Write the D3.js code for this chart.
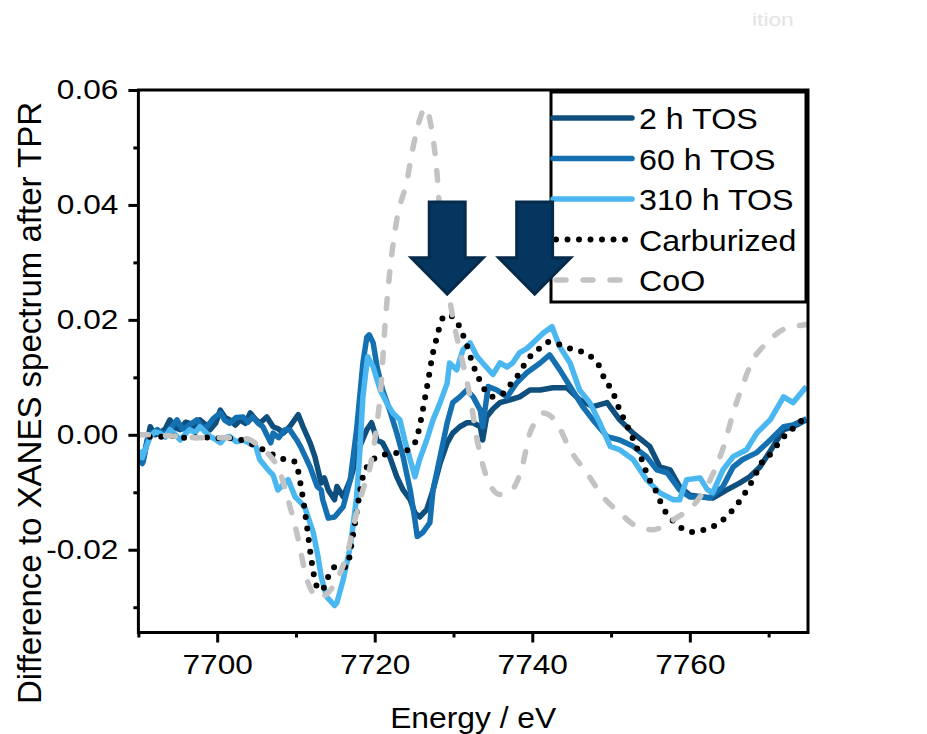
<!DOCTYPE html>
<html>
<head>
<meta charset="utf-8">
<script src="https://cdn.jsdelivr.net/npm/d3@7"></script>
<style>
body { margin: 0; background: #fff; }
svg text { font-family: "Liberation Sans", Arial, sans-serif; fill: #000; }
</style>
</head>
<body>
<svg id="chart" width="927" height="734"></svg>
<script>
// [energy / eV, difference] pairs
var tos2h = [
    [7690.2, -0.0031], [7690.6, -0.0047], [7691.5, 0.0014], [7692.1, 0.0000], [7692.7, 0.0003],
    [7693.4, 0.0010], [7694.0, 0.0026], [7694.7, 0.0012], [7695.3, 0.0009], [7696.0, 0.0022],
    [7696.5, 0.0020], [7697.2, 0.0008], [7697.8, 0.0026], [7698.5, 0.0018], [7699.1, 0.0009],
    [7699.8, 0.0020], [7700.4, 0.0043], [7701.0, 0.0030], [7701.6, 0.0026], [7702.3, 0.0017],
    [7702.9, 0.0026], [7703.6, 0.0020], [7704.2, 0.0038], [7704.8, 0.0028], [7705.4, 0.0020],
    [7706.3, 0.0031], [7707.1, 0.0014], [7707.8, 0.0010], [7708.4, 0.0003], [7709.2, 0.0014],
    [7710.3, 0.0035], [7710.9, 0.0014], [7711.8, -0.0014], [7712.4, -0.0038], [7713.2, -0.0084],
    [7713.6, -0.0075], [7714.1, -0.0096], [7714.9, -0.0113], [7715.2, -0.0090], [7716.0, -0.0108],
    [7716.9, -0.0078], [7718.1, -0.0020], [7719.0, 0.0009], [7719.6, 0.0021], [7720.3, -0.0009],
    [7721.0, -0.0014], [7721.9, -0.0038], [7722.8, -0.0073], [7723.6, -0.0096], [7724.5, -0.0113],
    [7725.1, -0.0136], [7725.7, -0.0143], [7726.6, -0.0130], [7727.4, -0.0096], [7728.3, -0.0049],
    [7729.2, -0.0014], [7729.9, 0.0003], [7730.8, 0.0014], [7731.7, 0.0021], [7732.5, 0.0021],
    [7733.4, 0.0014], [7733.7, -0.0009], [7734.2, 0.0031], [7735.0, 0.0045], [7735.9, 0.0056],
    [7737.2, 0.0061], [7738.4, 0.0066], [7739.7, 0.0078], [7741.0, 0.0078], [7742.6, 0.0082],
    [7744.4, 0.0082], [7746.0, 0.0061], [7747.7, 0.0049], [7749.5, 0.0056], [7751.1, 0.0026],
    [7752.8, 0.0003], [7754.9, -0.0020], [7756.2, -0.0056], [7757.5, -0.0061], [7758.7, -0.0090],
    [7760.0, -0.0105], [7761.7, -0.0108], [7762.9, -0.0110], [7764.7, -0.0096], [7766.3, -0.0084],
    [7767.6, -0.0073], [7768.9, -0.0056], [7770.6, -0.0020], [7771.9, 0.0009], [7773.1, 0.0014],
    [7774.8, 0.0026]
];

var tos60h = [
    [7690.2, -0.0043], [7690.5, -0.0050], [7691.1, -0.0009], [7691.8, 0.0004], [7692.4, 0.0009],
    [7693.0, 0.0002], [7693.6, 0.0003], [7694.3, 0.0015], [7694.9, 0.0026], [7695.6, 0.0010],
    [7696.2, 0.0014], [7696.8, 0.0020], [7697.4, 0.0026], [7698.1, 0.0012], [7698.7, 0.0014],
    [7699.5, 0.0028], [7700.4, 0.0038], [7701.0, 0.0025], [7701.6, 0.0020], [7702.4, 0.0030],
    [7703.3, 0.0031], [7703.9, 0.0022], [7704.5, 0.0031], [7705.2, 0.0020], [7705.8, 0.0014],
    [7706.8, -0.0014], [7707.1, 0.0003], [7707.8, -0.0005], [7708.6, 0.0009], [7709.2, 0.0009],
    [7710.1, -0.0009], [7710.6, -0.0021], [7711.8, -0.0056], [7712.7, -0.0090], [7713.2, -0.0096],
    [7713.4, -0.0113], [7714.1, -0.0145], [7714.9, -0.0143], [7716.0, -0.0125], [7716.9, -0.0078],
    [7717.7, 0.0009], [7718.5, 0.0125], [7719.0, 0.0170], [7719.3, 0.0174], [7719.8, 0.0160],
    [7720.3, 0.0118], [7721.0, 0.0078], [7721.9, 0.0043], [7722.8, 0.0003], [7723.6, -0.0038],
    [7724.5, -0.0096], [7725.1, -0.0148], [7725.4, -0.0177], [7726.1, -0.0170], [7727.0, -0.0153],
    [7727.4, -0.0096], [7728.3, -0.0038], [7729.2, 0.0021], [7729.9, 0.0056], [7730.8, 0.0066],
    [7731.7, 0.0078], [7732.5, 0.0066], [7733.4, 0.0043], [7733.7, 0.0014], [7734.4, 0.0084],
    [7735.5, 0.0078], [7736.8, 0.0066], [7738.0, 0.0090], [7739.3, 0.0108], [7741.0, 0.0125],
    [7742.2, 0.0139], [7743.5, 0.0113], [7744.8, 0.0084], [7746.4, 0.0049], [7747.7, 0.0026],
    [7749.5, -0.0003], [7751.1, -0.0009], [7752.8, -0.0020], [7754.5, -0.0038], [7755.8, -0.0061],
    [7757.1, -0.0066], [7758.7, -0.0096], [7760.0, -0.0108], [7761.3, -0.0108], [7762.5, -0.0110],
    [7764.2, -0.0090], [7765.5, -0.0056], [7766.7, -0.0043], [7768.5, -0.0031], [7770.2, -0.0009],
    [7771.9, 0.0014], [7773.1, 0.0017], [7774.8, 0.0028]
];

var tos310h = [
    [7690.2, -0.0026], [7690.5, -0.0040], [7691.5, -0.0003], [7692.1, 0.0005], [7692.7, 0.0003],
    [7693.4, -0.0004], [7694.0, 0.0009], [7694.7, 0.0000], [7695.3, -0.0009], [7696.0, 0.0002],
    [7696.5, 0.0009], [7697.2, 0.0004], [7697.8, 0.0014], [7698.5, 0.0005], [7699.1, -0.0003],
    [7699.8, -0.0008], [7700.4, -0.0014], [7701.0, -0.0005], [7701.6, -0.0003], [7702.4, -0.0012],
    [7703.3, -0.0009], [7704.1, -0.0015], [7704.9, -0.0020], [7705.4, -0.0043], [7706.4, -0.0060],
    [7707.1, -0.0070], [7707.7, -0.0096], [7709.0, -0.0078], [7709.9, -0.0108], [7711.1, -0.0125],
    [7712.2, -0.0170], [7712.8, -0.0212], [7713.2, -0.0247], [7713.9, -0.0282], [7714.9, -0.0297],
    [7715.2, -0.0292], [7716.0, -0.0252], [7716.9, -0.0195], [7717.7, -0.0108], [7718.1, -0.0031],
    [7718.5, 0.0066], [7719.0, 0.0125], [7719.1, 0.0136], [7719.8, 0.0118], [7720.7, 0.0078],
    [7721.5, 0.0056], [7722.3, 0.0038], [7723.2, 0.0026], [7723.8, -0.0009], [7724.5, -0.0043],
    [7725.1, -0.0073], [7725.7, -0.0043], [7726.6, -0.0009], [7727.4, 0.0026], [7728.3, 0.0056],
    [7729.2, 0.0090], [7729.5, 0.0125], [7730.4, 0.0113], [7731.2, 0.0148], [7732.1, 0.0160],
    [7733.0, 0.0136], [7733.7, 0.0125], [7735.0, 0.0105], [7735.9, 0.0125], [7736.8, 0.0118],
    [7737.5, 0.0125], [7738.4, 0.0143], [7739.3, 0.0150], [7740.1, 0.0160], [7741.4, 0.0177],
    [7742.5, 0.0188], [7743.5, 0.0153], [7744.8, 0.0125], [7746.0, 0.0078], [7747.3, 0.0056],
    [7748.6, 0.0020], [7749.9, -0.0020], [7751.1, -0.0026], [7752.8, -0.0043], [7754.5, -0.0078],
    [7756.2, -0.0101], [7757.9, -0.0113], [7758.7, -0.0113], [7759.6, -0.0078], [7761.3, -0.0075],
    [7762.2, -0.0095], [7762.9, -0.0101], [7764.2, -0.0061], [7765.5, -0.0038], [7767.2, -0.0026],
    [7768.5, 0.0003], [7770.2, 0.0026], [7771.9, 0.0066], [7773.1, 0.0056], [7774.8, 0.0084]
];

var carburized = [
    [7690.0, 0.0000], [7692.0, -0.0004], [7694.0, -0.0002], [7696.0, -0.0005], [7698.0, -0.0004],
    [7700.0, -0.0006], [7702.0, -0.0006], [7703.0, -0.0009], [7704.0, -0.0014], [7705.2, -0.0021],
    [7706.4, -0.0030], [7707.5, -0.0037], [7708.6, -0.0043], [7709.9, -0.0047], [7710.6, -0.0087],
    [7711.1, -0.0130], [7711.5, -0.0170], [7711.9, -0.0212], [7712.4, -0.0252], [7712.8, -0.0268],
    [7713.2, -0.0271], [7713.7, -0.0262], [7714.3, -0.0240], [7715.3, -0.0228], [7716.4, -0.0230],
    [7717.2, -0.0178], [7717.7, -0.0136], [7718.1, -0.0101], [7718.5, -0.0073], [7719.2, -0.0052],
    [7719.8, -0.0043], [7721.0, -0.0035], [7722.5, -0.0032], [7724.1, -0.0027], [7725.1, -0.0014],
    [7725.5, 0.0003], [7726.1, 0.0043], [7726.8, 0.0096], [7727.4, 0.0143], [7727.9, 0.0170],
    [7728.5, 0.0200], [7729.2, 0.0209], [7730.3, 0.0200], [7731.0, 0.0180], [7731.6, 0.0160],
    [7732.4, 0.0125], [7733.5, 0.0090], [7734.2, 0.0073], [7735.0, 0.0066], [7736.2, 0.0071],
    [7737.2, 0.0087], [7738.0, 0.0100], [7738.8, 0.0118], [7739.9, 0.0139], [7741.0, 0.0151],
    [7742.2, 0.0162], [7743.5, 0.0157], [7745.2, 0.0148], [7746.4, 0.0144], [7747.6, 0.0134],
    [7748.6, 0.0117], [7749.2, 0.0096], [7750.1, 0.0078], [7751.1, 0.0043], [7752.1, 0.0014],
    [7753.0, -0.0014], [7753.9, -0.0043], [7754.7, -0.0073], [7755.8, -0.0101], [7756.6, -0.0127],
    [7757.5, -0.0144], [7758.7, -0.0160], [7760.4, -0.0169], [7761.9, -0.0165], [7762.9, -0.0160],
    [7764.2, -0.0148], [7765.5, -0.0130], [7766.7, -0.0108], [7768.0, -0.0078], [7769.1, -0.0049],
    [7770.4, -0.0031], [7771.4, -0.0012], [7772.4, 0.0003], [7773.6, 0.0017], [7774.6, 0.0031]
];

var coo = [
    [7690.0, 0.0000], [7692.0, 0.0000], [7695.0, -0.0003], [7698.0, -0.0005], [7701.0, -0.0005],
    [7703.8, -0.0007], [7705.0, -0.0016], [7706.3, -0.0031], [7707.2, -0.0045], [7708.0, -0.0066],
    [7708.9, -0.0108], [7710.1, -0.0170], [7711.4, -0.0252], [7712.2, -0.0276], [7713.0, -0.0284],
    [7713.8, -0.0278], [7714.7, -0.0264], [7715.6, -0.0240], [7716.4, -0.0212], [7717.7, -0.0136],
    [7718.5, -0.0096], [7719.4, -0.0056], [7720.2, 0.0010], [7720.8, 0.0085], [7721.3, 0.0190],
    [7721.9, 0.0282], [7722.8, 0.0374], [7724.1, 0.0443], [7724.8, 0.0496], [7725.7, 0.0548],
    [7726.4, 0.0569], [7727.3, 0.0525], [7727.9, 0.0456], [7728.3, 0.0379], [7729.1, 0.0275],
    [7729.9, 0.0205], [7731.0, 0.0136], [7732.1, 0.0066], [7733.0, -0.0009], [7734.2, -0.0073],
    [7735.9, -0.0104], [7737.4, -0.0096], [7738.7, -0.0056], [7739.7, 0.0003], [7740.6, 0.0026],
    [7741.4, 0.0038], [7743.1, 0.0021], [7744.8, -0.0026], [7746.9, -0.0066], [7749.0, -0.0108],
    [7751.1, -0.0136], [7753.7, -0.0162], [7755.3, -0.0165], [7757.9, -0.0148], [7761.3, -0.0108],
    [7763.0, -0.0066], [7764.3, -0.0020], [7765.5, 0.0038], [7766.8, 0.0090], [7768.0, 0.0130],
    [7769.8, 0.0160], [7771.8, 0.0183], [7774.4, 0.0191], [7775.0, 0.0192]
];

var seriesNames = ["2 h TOS", "60 h TOS", "310 h TOS", "Carburized", "CoO"];
var seriesData = [tos2h, tos60h, tos310h, carburized, coo];
var arrowEnergies = [7729.2, 7740.3];
var xTicks = [7700, 7720, 7740, 7760];
var xMinorTicks = [7690, 7710, 7730, 7750, 7770];
var yTicks = [-0.02, 0.00, 0.02, 0.04, 0.06];
var yMinorTicks = [-0.03, -0.01, 0.01, 0.03, 0.05];

// line looks, same order as the series
var styles = [
    { color: "#0f4f7e", width: 5.5, dash: null, curve: d3.curveLinear },
    { color: "#1570b1", width: 5.5, dash: null, curve: d3.curveLinear },
    { color: "#4bb7f1", width: 5.5, dash: null, curve: d3.curveLinear },
    { color: "#000000", width: 6, dash: "0,11.5", curve: d3.curveMonotoneX },
    { color: "#c3c3c3", width: 5.5, dash: "10,17", curve: d3.curveMonotoneX }
];

var box = { left: 138.4, right: 808, top: 90, bottom: 632.5 };
var stretch = 1.13;  // the figure's lettering is a bit wider than plain Arial

var svg = d3.select("#chart");

var x = d3.scaleLinear()
    .domain([7690, 7775])
    .range([box.left, box.right]);

var y = d3.scaleLinear()
    .domain([-0.0344, 0.06])
    .range([box.bottom, box.top]);

function translate(a, b) {
    return "translate(" + a + "," + b + ")";
}

function wide(a, b, k) {
    return translate(a, b) + " scale(" + k + ",1)";
}

svg.append("text")
    .attr("transform", wide(752, 26, 1.2))
    .style("font-size", "19px")
    .style("fill", "#e4e4e4")
    .text("ition");

svg.append("defs").append("clipPath")
    .attr("id", "plot-clip")
  .append("rect")
    .attr("x", box.left).attr("y", box.top)
    .attr("width", box.right - box.left)
    .attr("height", box.bottom - box.top);

// curves
var curves = svg.append("g").attr("clip-path", "url(#plot-clip)");

seriesData.forEach(function(data, i) {
    var st = styles[i];
    var line = d3.line()
        .curve(st.curve)
        .x(d => x(d[0]))
        .y(d => y(d[1]));

    curves.append("path")
        .datum(data)
        .attr("d", line)
        .style("fill", "none")
        .style("stroke", st.color)
        .style("stroke-width", st.width)
        .style("stroke-linejoin", "round")
        .style("stroke-linecap", st.dash ? "round" : "butt")
        .attr("stroke-dasharray", st.dash);
});

// axes
function styleAxis(g) {
    g.select(".domain").remove();
    g.selectAll(".tick line").style("stroke", "#000").style("stroke-width", 3);
    g.selectAll(".tick text")
        .style("font-size", "28px")
        .style("font-family", "'Liberation Sans', Arial, sans-serif")
        .style("fill", "#000");
}

var xAxis = svg.append("g")
    .attr("transform", translate(0, box.bottom))
    .call(d3.axisBottom(x).tickValues(xTicks).tickSize(10).tickPadding(12)
        .tickFormat(d3.format("d")));
styleAxis(xAxis);
xAxis.selectAll(".tick text").attr("transform", "scale(" + stretch + ",1)");

var xMinor = svg.append("g")
    .attr("transform", translate(0, box.bottom))
    .call(d3.axisBottom(x).tickValues(xMinorTicks).tickSize(5).tickFormat(""));
styleAxis(xMinor);

var yAxis = svg.append("g")
    .attr("transform", translate(box.left, 0))
    .call(d3.axisLeft(y).tickValues(yTicks).tickSize(10).tickPadding(20 / stretch - 10)
        .tickFormat(d3.format(".2f")));
styleAxis(yAxis);
yAxis.selectAll(".tick text")
    .attr("x", -20 / stretch)
    .attr("transform", "scale(" + stretch + ",1)")
    .text(d => d < 0 ? "-" + Math.abs(d).toFixed(2) : d.toFixed(2));

var yMinor = svg.append("g")
    .attr("transform", translate(box.left, 0))
    .call(d3.axisLeft(y).tickValues(yMinorTicks).tickSize(5).tickFormat(""));
styleAxis(yMinor);

svg.append("rect")
    .attr("x", box.left).attr("y", box.top)
    .attr("width", box.right - box.left)
    .attr("height", box.bottom - box.top)
    .style("fill", "none")
    .style("stroke", "#000")
    .style("stroke-width", 3);

svg.append("text")
    .attr("transform", wide((box.left + box.right) / 2, 728, 1.06))
    .attr("text-anchor", "middle")
    .style("font-size", "30px")
    .text("Energy / eV");

svg.append("text")
    .attr("transform", translate(41, 403) + " rotate(-90)")
    .attr("text-anchor", "middle")
    .style("font-size", "33px")
    .text("Difference to XANES spectrum after TPR");

// legend
var legend = svg.append("g");

legend.append("rect")
    .attr("x", 551).attr("y", 92)
    .attr("width", 255).attr("height", 210)
    .style("fill", "#fff")
    .style("stroke", "#000")
    .style("stroke-width", 3);

var rows = legend.selectAll("g.row")
    .data(seriesNames)
    .enter().append("g")
        .attr("class", "row")
        .attr("transform", (_, i) => translate(0, 118 + i * 40.5));

rows.append("line")
    .attr("x1", (_, i) => styles[i].dash ? 556 : 553)
    .attr("x2", 632)
    .style("stroke", (_, i) => styles[i].color)
    .style("stroke-width", (_, i) => styles[i].width)
    .style("stroke-linecap", "round")
    .attr("stroke-dasharray", (_, i) => styles[i].dash);

rows.append("text")
    .attr("transform", wide(639, 11, 1.11))
    .style("font-size", "29px")
    .text(d => d);

// the two arrows, drawn last so they sit over the legend
var arrow = { shaft: 2.28, head: 4.57, top: 0.0405, neck: 0.0308, tip: 0.0245 };

function arrowPoints(e) {
    return [
        [e - arrow.shaft, arrow.top], [e + arrow.shaft, arrow.top],
        [e + arrow.shaft, arrow.neck], [e + arrow.head, arrow.neck],
        [e, arrow.tip],
        [e - arrow.head, arrow.neck], [e - arrow.shaft, arrow.neck]
    ].map(p => x(p[0]) + "," + y(p[1])).join(" ");
}

svg.selectAll("polygon.arrow")
    .data(arrowEnergies)
    .enter().append("polygon")
        .attr("class", "arrow")
        .attr("points", arrowPoints)
        .style("fill", "#05365f")
        .style("stroke", "#062a49")
        .style("stroke-width", 3)
        .style("stroke-linejoin", "miter");
</script>
</body>
</html>
